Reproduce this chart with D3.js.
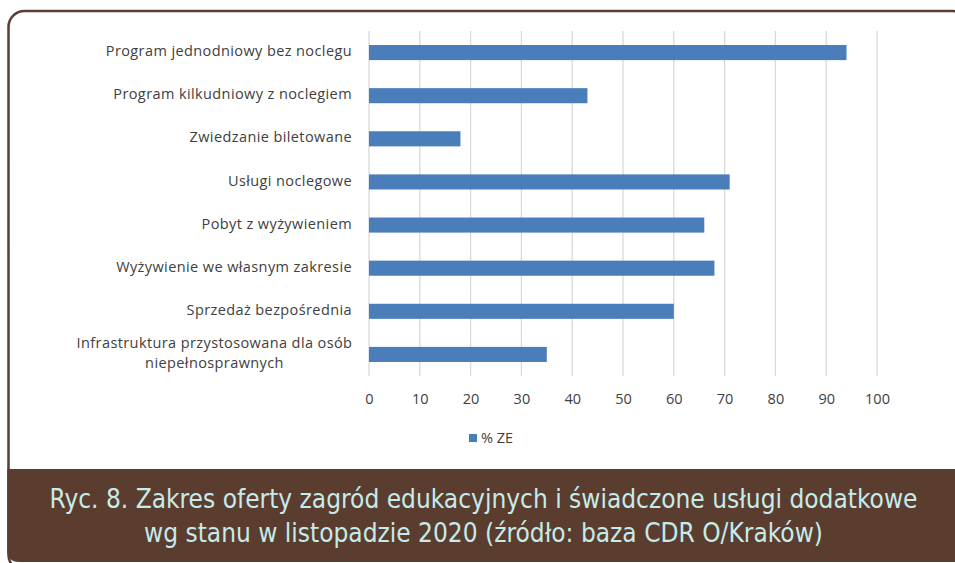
<!DOCTYPE html>
<html><head><meta charset="utf-8">
<script src="https://cdn.jsdelivr.net/npm/d3@7"></script>
<style>body{margin:0;background:#fff;} svg{display:block;}</style>
</head><body>
<svg id="c" width="955" height="563"></svg>
<script>
const categories = [
  "Program jednodniowy bez noclegu",
  "Program kilkudniowy z noclegiem",
  "Zwiedzanie biletowane",
  "Usługi noclegowe",
  "Pobyt z wyżywieniem",
  "Wyżywienie we własnym zakresie",
  "Sprzedaż bezpośrednia",
  "Infrastruktura przystosowana dla osób niepełnosprawnych"
];
const values = [94, 43, 18, 71, 66, 68, 60, 35];
const xTicks = [0,10,20,30,40,50,60,70,80,90,100];
const seriesName = "% ZE";
const captionLines = [
  "Ryc. 8. Zakres oferty zagród edukacyjnych i świadczone usługi dodatkowe",
  "wg stanu w listopadzie 2020 (źródło: baza CDR O/Kraków)"
];

const svg = d3.select("#c");
const brown = "#5a3e2f";
const barColor = "#4a7ebb";
const textColor = "#404040";

// frame
svg.append("rect").attr("x",8.5).attr("y",11).attr("width",960).attr("height",560)
  .attr("rx",16).attr("fill","#fff").attr("stroke",brown).attr("stroke-width",2.5);
// caption box
svg.append("path")
  .attr("d","M7.25,469 H960 V562 H19 Q7.25,562 7.25,550 Z")
  .attr("fill","#5a3d2e");

const x = d3.scaleLinear().domain([0,100]).range([369,877]);
const y = d3.scaleBand().domain(categories).range([31,376]).paddingInner(0.65).paddingOuter(0.325);

const g = svg.append("g");
// gridlines
g.selectAll("line.grid").data(xTicks).join("line")
  .attr("x1",d=>x(d)).attr("x2",d=>x(d)).attr("y1",31).attr("y2",376)
  .attr("stroke","#d9d9d9").attr("stroke-width",1.3);

// bars
g.selectAll("rect.bar").data(values).join("rect")
  .attr("x",x(0)).attr("y",(d,i)=>y(categories[i]))
  .attr("width",d=>x(d)-x(0)).attr("height",y.bandwidth())
  .attr("fill",barColor);

const font = "'Open Sans', sans-serif";
const fs = 14.5, ls = 0.4;
// x axis labels
const axis = d3.axisBottom(x).tickValues(xTicks).tickSize(0).tickPadding(0);
const ax = svg.append("g").attr("transform","translate(0,404)").call(axis);
ax.select(".domain").remove();
ax.selectAll("text").attr("font-family",font).attr("font-size",fs).attr("fill",textColor)
  .attr("y",0).attr("dy","0");

// category labels
categories.forEach((c,i)=>{
  const cy = y(c)+y.bandwidth()/2;
  if (i === categories.length-1) {
    svg.append("text").attr("text-anchor","middle").attr("x",214.5).attr("y",cy-6.5)
      .attr("font-family",font).attr("font-size",fs).attr("letter-spacing",ls).attr("fill",textColor)
      .text("Infrastruktura przystosowana dla osób");
    svg.append("text").attr("text-anchor","middle").attr("x",214.5).attr("y",cy+13.5)
      .attr("font-family",font).attr("font-size",fs).attr("letter-spacing",ls).attr("fill",textColor)
      .text("niepełnosprawnych");
  } else {
    svg.append("text").attr("x",352).attr("y",cy+3.6).attr("text-anchor","end")
      .attr("font-family",font).attr("font-size",fs).attr("letter-spacing",ls).attr("fill",textColor).text(c);
  }
});

// legend
svg.append("rect").attr("x",469).attr("y",434).attr("width",8).attr("height",8).attr("fill",barColor);
svg.append("text").attr("x",481).attr("y",443).attr("font-family",font)
  .attr("font-size",fs).attr("fill",textColor).text(seriesName);

// caption
captionLines.forEach((l,i)=>{
  svg.append("text").attr("x",483.5).attr("y",508+i*34).attr("text-anchor","middle")
    .attr("font-family","'DejaVu Sans Condensed', 'DejaVu Sans', sans-serif").attr("font-stretch","condensed")
    .attr("font-size",26).attr("fill","#c6ebea").text(l);
});
</script>
</body></html>
